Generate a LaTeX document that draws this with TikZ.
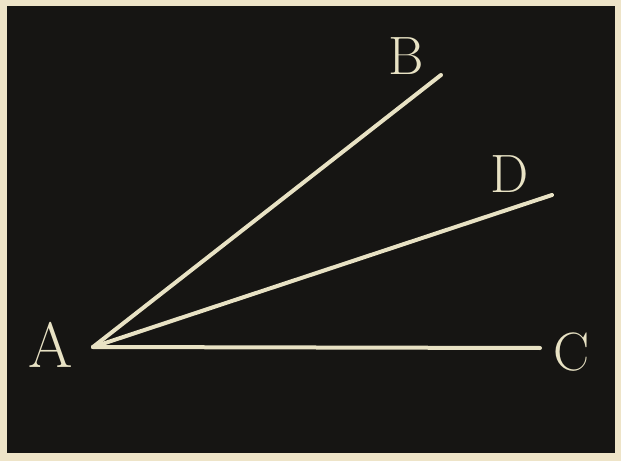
\documentclass[tikz,border=0pt]{standalone}
\definecolor{paper}{RGB}{238,228,200}
\definecolor{board}{RGB}{22,21,19}
\definecolor{chalk}{RGB}{232,226,196}
\usepackage{tikz}
\usetikzlibrary{calc, positioning}

\begin{document}
\begin{tikzpicture}[
  x=1pt, y=1pt,
  ray/.style={draw=chalk, line width=4pt, line cap=round},
  vlabel/.style={font=\fontsize{54}{58}\selectfont, text=chalk, inner sep=0pt},
]
% Paper and blackboard
\fill[paper] (0,0) rectangle (621,461);
\fill[board] (7,8) rectangle (615,455);

% Vertex and ray ends
\coordinate (vA) at (93,114);
\coordinate (eB) at (441,386);
\coordinate (eD) at (552,266);
\coordinate (eC) at (540,113);

% Rays
\draw[ray] (vA) -- (eB);
\draw[ray] (vA) -- (eD);
\draw[ray] (vA) -- (eC);

% Labels
\node[vlabel, font=\fontsize{64}{68}\selectfont] (lA) at (51,116) {A};
\node[vlabel] (lB) at (406,405) {B};
\node[vlabel] (lD) at (510,287) {D};
\node[vlabel] (lC) at (572,109) {C};
\end{tikzpicture}
\end{document}
